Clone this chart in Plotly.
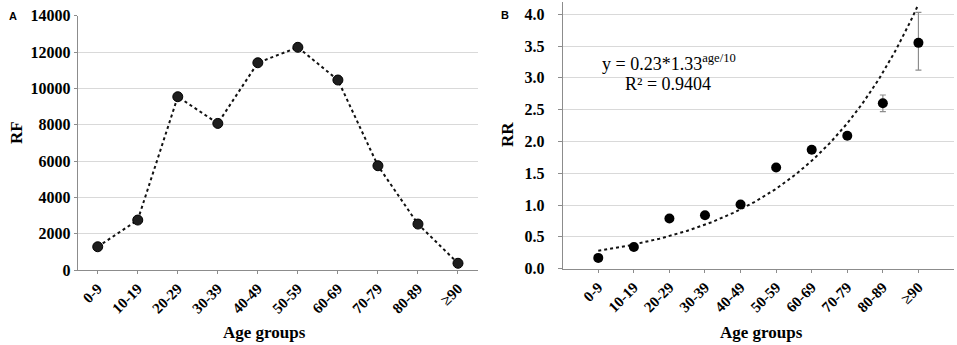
import numpy as np
import plotly.graph_objects as go

# ---------------- data ----------------
age_groups = ["0-9", "10-19", "20-29", "30-39", "40-49", "50-59", "60-69", "70-79", "80-89", "≥90"]
rf_values = [1280, 2750, 9540, 8070, 11410, 12260, 10460, 5740, 2530, 370]
rr_values = [0.17, 0.34, 0.79, 0.84, 1.01, 1.59, 1.87, 2.09, 2.60, 3.55]
rr_err_plus = [0.02, 0.03, 0.02, 0.02, 0.02, 0.02, 0.02, 0.02, 0.13, 0.48]
rr_err_minus = [0.02, 0.03, 0.02, 0.02, 0.02, 0.02, 0.02, 0.02, 0.13, 0.43]
rf_ticks = [0, 2000, 4000, 6000, 8000, 10000, 12000, 14000]
rr_ticks = [0.0, 0.5, 1.0, 1.5, 2.0, 2.5, 3.0, 3.5, 4.0]
eq_text = "y = 0.23*1.33<sup>age/10</sup>"
r2_text = "R² = 0.9404"

W, H = 957, 345
SERIF = "Liberation Serif, Times New Roman, serif"
GRID = "#d9d9d9"
AXIS = "#8c8c8c"

idx = np.arange(len(age_groups))

# exponential trend fitted to the RR data (Excel-style, x = 1..10)
b, ln_a = np.polyfit(idx + 1, np.log(rr_values), 1)
xs = np.linspace(0, len(age_groups) - 1, 200)
trend = np.exp(ln_a) * np.exp(b * (xs + 1))

fig = go.Figure()

# Panel A
fig.add_trace(go.Scatter(
    x=idx, y=rf_values, mode="lines+markers",
    line=dict(color="#111111", width=2, dash="dot"),
    marker=dict(size=10, color="#1e1e1e", line=dict(color="#000000", width=1)),
    xaxis="x", yaxis="y", showlegend=False,
))

# Panel B trend
fig.add_trace(go.Scatter(
    x=xs, y=trend, mode="lines",
    line=dict(color="#111111", width=2, dash="dot"),
    xaxis="x2", yaxis="y2", showlegend=False, hoverinfo="skip", cliponaxis=False,
))
# Panel B points
fig.add_trace(go.Scatter(
    x=idx, y=rr_values, mode="markers",
    marker=dict(size=10, color="#000000"),
    error_y=dict(type="data", symmetric=False, array=rr_err_plus, arrayminus=rr_err_minus,
                 color="#8c8c8c", thickness=1.2, width=3),
    xaxis="x2", yaxis="y2", showlegend=False,
))

tickfont = dict(family=SERIF, size=16, color="#000000", weight="bold")
xtickfont = dict(family=SERIF, size=15, color="#000000", weight="bold")


def px_x(p):
    return p / W


def px_y(p):
    return 1 - p / H


xa_common = dict(
    tickmode="array", tickvals=list(idx), ticktext=age_groups, tickangle=-45,
    tickfont=xtickfont, showgrid=False, zeroline=False,
    showline=True, linecolor=AXIS, linewidth=1,
    ticks="outside", ticklen=3, tickcolor=AXIS, automargin=False,
)

fig.update_layout(
    width=W, height=H,
    margin=dict(l=0, r=0, t=0, b=0),
    paper_bgcolor="white", plot_bgcolor="white",
    xaxis=dict(domain=[px_x(77.7), px_x(478)], range=[-0.5, 9.5], anchor="y", **xa_common),
    yaxis=dict(domain=[px_y(270), px_y(15.7)], range=[0, 14000.5], anchor="x",
               tickmode="array", tickvals=rf_ticks, ticktext=[str(v) for v in rf_ticks],
               tickfont=tickfont, ticklabeloverflow="allow",
               showgrid=True, gridcolor=GRID, gridwidth=1, zeroline=False,
               showline=True, linecolor=AXIS, linewidth=1,
               ticks="outside", ticklen=3, tickcolor=AXIS, automargin=False),
    xaxis2=dict(domain=[px_x(562.7), px_x(954)], range=[-1, 10], anchor="y2", **xa_common),
    yaxis2=dict(domain=[px_y(268.7), px_y(1.5)], range=[0, 4.2], anchor="x2",
                tickmode="array", tickvals=rr_ticks, ticktext=[f"{v:.1f}" for v in rr_ticks],
                tickfont=tickfont, ticklabeloverflow="allow",
                showgrid=True, gridcolor=GRID, gridwidth=1, zeroline=False,
                showline=True, linecolor=AXIS, linewidth=1,
                ticks="outside", ticklen=4, tickcolor=AXIS, automargin=False,
                ticklabelstandoff=10),
)


def note(text, x, y, font, angle=0):
    return dict(text=text, x=px_x(x), y=px_y(y), xref="paper", yref="paper",
                xanchor="center", yanchor="middle", showarrow=False,
                textangle=angle, font=font)


ann = []
letter_font = dict(family="Arial, Liberation Sans, sans-serif", size=11, color="#000", weight="bold")
ann.append(note("A", 13, 16, letter_font))
ann.append(note("B", 505, 15, letter_font))
title_font = dict(family=SERIF, size=17, color="#000", weight="bold")
ann.append(note("RF", 16, 133, title_font, -90))
ann.append(note("RR", 507, 135, title_font, -90))
ann.append(note("Age groups", 264, 332, title_font))
ann.append(note("Age groups", 761, 332, title_font))
eq_font = dict(family=SERIF, size=18, color="#000")
ann.append(note(eq_text, 669, 62, eq_font))
ann.append(note(r2_text, 668, 84, eq_font))

fig.update_layout(annotations=ann)

# remove the page's default body margin so the figure fills the window exactly
fig.write_html("out.html", config={"displayModeBar": False},
               post_script="document.body.style.margin='0';")
